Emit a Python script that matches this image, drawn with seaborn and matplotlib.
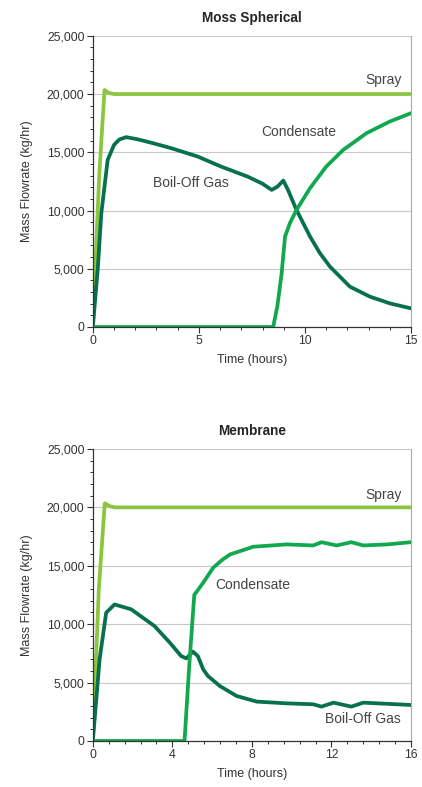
import numpy as np
import pandas as pd
import matplotlib
matplotlib.use("Agg")
import matplotlib.pyplot as plt
import seaborn as sns
from matplotlib.ticker import AutoMinorLocator, FuncFormatter, MultipleLocator

# ---- Moss Spherical ----
moss_spray_t = [0, 0.3, 0.55, 0.75, 1.0, 15]
moss_spray_v = [0, 13000, 20350, 20100, 20000, 20000]

moss_bog_t = [0, 0.24, 0.4, 0.7, 1.0, 1.25, 1.57, 2.1, 2.9, 3.7, 4.95, 6.05, 7.3, 8.0, 8.43, 8.7,
              8.98, 9.2, 9.6, 10.24, 10.7, 11.18, 12.12, 13.07, 14.0, 15]
moss_bog_v = [0, 5180, 9770, 14350, 15640, 16100, 16300, 16120, 15750, 15350, 14630, 13770, 12910,
              12300, 11770, 12050, 12570, 11770, 10050, 7760, 6350, 5180, 3460, 2600, 2030, 1600]

moss_cond_t = [0, 8.5, 8.7, 8.9, 9.06, 9.29, 9.6, 10.24, 11.0, 11.8, 12.9, 14.0, 15]
moss_cond_v = [0, 0, 1800, 4600, 7760, 8910, 10050, 11920, 13770, 15200, 16640, 17640, 18360]

# ---- Membrane ----
mem_spray_t = [0, 0.3, 0.6, 0.85, 1.1, 16]
mem_spray_v = [0, 13000, 20350, 20100, 20000, 20000]

mem_bog_t = [0, 0.34, 0.67, 1.09, 1.93, 3.1, 3.87, 4.44, 4.7, 5.03, 5.28, 5.55, 5.79, 6.39, 7.23,
             8.24, 9.75, 11.08, 11.5, 12.1, 13.0, 13.6, 16]
mem_bog_v = [0, 6990, 10980, 11690, 11270, 9840, 8420, 7270, 7070, 7650, 7270, 6130, 5560, 4700,
             3850, 3370, 3220, 3140, 2940, 3280, 2940, 3280, 3080]

mem_cond_t = [0, 4.61, 4.85, 5.1, 5.55, 6.05, 6.5, 6.9, 8.07, 9.75, 11.08, 11.5, 12.26, 13.0, 13.6,
              14.8, 16]
mem_cond_v = [0, 0, 6500, 12500, 13550, 14830, 15500, 15970, 16630, 16830, 16740, 17020, 16740,
              17020, 16740, 16830, 17020]

colors = {"Spray": "#8cc63f", "Condensate": "#12a84f", "Boil-Off Gas": "#07704f"}


def to_frame(spray_t, spray_v, cond_t, cond_v, bog_t, bog_v):
    parts = []
    for name, t, v in [("Spray", spray_t, spray_v), ("Boil-Off Gas", bog_t, bog_v),
                       ("Condensate", cond_t, cond_v)]:
        parts.append(pd.DataFrame({"Time": t, "Flow": v, "Series": name}))
    return pd.concat(parts, ignore_index=True)


moss = to_frame(moss_spray_t, moss_spray_v, moss_cond_t, moss_cond_v, moss_bog_t, moss_bog_v)
mem = to_frame(mem_spray_t, mem_spray_v, mem_cond_t, mem_cond_v, mem_bog_t, mem_bog_v)

sns.set_style("white")
plt.rcParams["font.family"] = ["Liberation Sans", "DejaVu Sans"]

fig = plt.figure(figsize=(4.22, 7.87), dpi=100)
ax1 = fig.add_axes([0.220, 0.5845, 0.754, 0.370])
ax2 = fig.add_axes([0.220, 0.0585, 0.754, 0.371])

panels = [
    (ax1, moss, "Moss Spherical", 15, 5,
     [("Spray", 13.7, 21200), ("Condensate", 9.7, 16750), ("Boil-Off Gas", 4.6, 12370)]),
    (ax2, mem, "Membrane", 16, 4,
     [("Spray", 14.6, 21100), ("Condensate", 8.05, 13320), ("Boil-Off Gas", 13.6, 1860)]),
]

for ax, df, title, xmax, xstep, labels in panels:
    sns.lineplot(data=df, x="Time", y="Flow", hue="Series", palette=colors,
                 hue_order=["Spray", "Boil-Off Gas", "Condensate"], sort=False,
                 estimator=None, linewidth=2.7, legend=False, ax=ax)
    ax.set_xlim(0, xmax)
    ax.set_ylim(0, 25000)
    ax.xaxis.set_major_locator(MultipleLocator(xstep))
    ax.xaxis.set_minor_locator(AutoMinorLocator(5))
    ax.yaxis.set_major_locator(MultipleLocator(5000))
    ax.yaxis.set_minor_locator(AutoMinorLocator(5))
    ax.yaxis.set_major_formatter(FuncFormatter(lambda v, p: f"{int(v):,}"))
    ax.grid(axis="y", color="#c8c8c8", linewidth=0.8)
    ax.get_ygridlines()[-1].set_visible(False)
    ax.set_axisbelow(True)
    ax.tick_params(axis="both", which="major", direction="out", length=4, width=0.8,
                   color="#333333", labelsize=8.8, labelcolor="#333333", pad=2,
                   bottom=True, left=True)
    ax.tick_params(axis="both", which="minor", direction="out", length=2.5, width=0.7,
                   color="#333333", bottom=True, left=True)
    for s in ["left", "bottom"]:
        ax.spines[s].set_color("#333333")
        ax.spines[s].set_linewidth(0.9)
    ax.spines["right"].set_color("#aaaaaa")
    ax.spines["right"].set_linewidth(0.8)
    ax.spines["top"].set_visible(False)
    ax.set_title(title, fontsize=9.8, fontweight="bold", pad=10)
    ax.set_xlabel("Time (hours)", fontsize=9, color="#333333", labelpad=5)
    ax.set_ylabel("Mass Flowrate (kg/hr)", fontsize=9, color="#333333", labelpad=10)
    for txt, tx, ty in labels:
        ax.text(tx, ty, txt, fontsize=10, color="#444444", ha="center", va="center")

fig.savefig("out.png", dpi=100)
